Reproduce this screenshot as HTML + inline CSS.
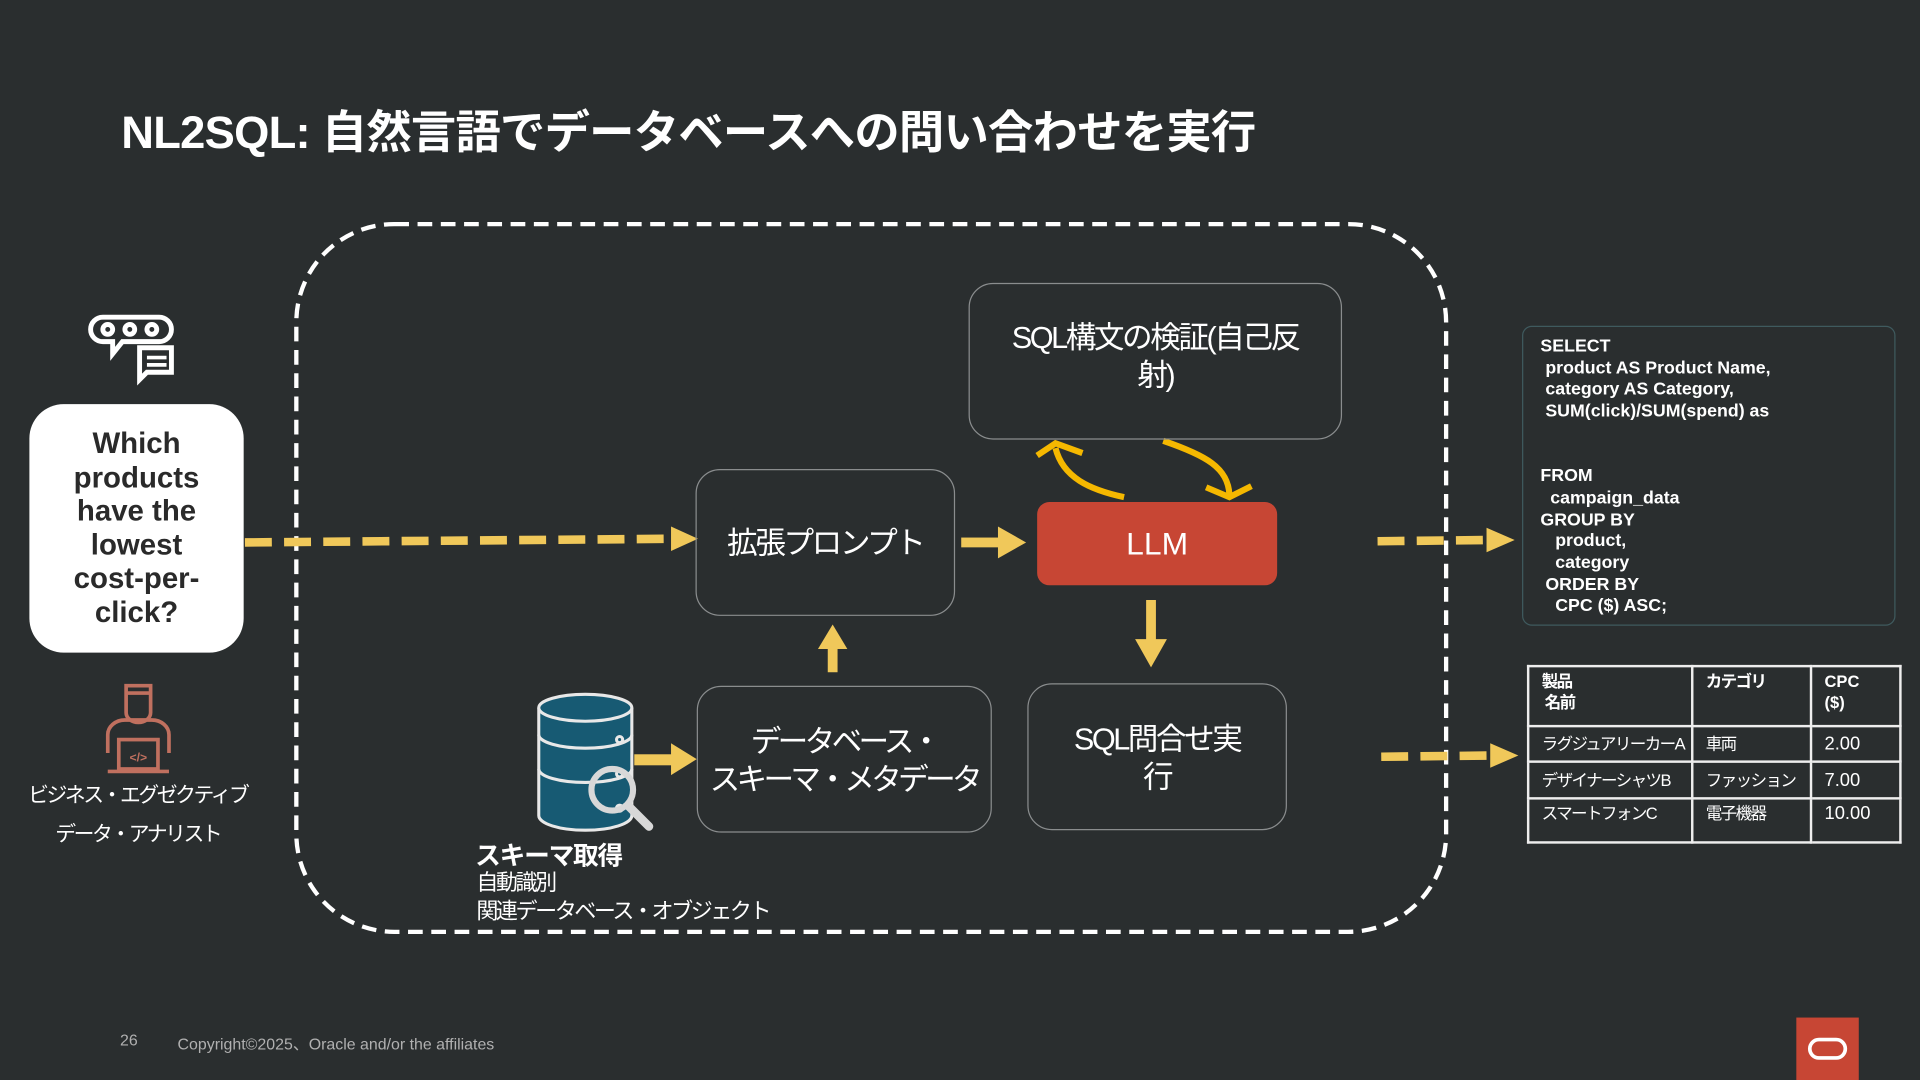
<!DOCTYPE html>
<html><head><meta charset="utf-8"><style>
html,body{margin:0;padding:0;background:#2a2e2f;overflow:hidden}
#w{width:1568px;height:882px;position:relative;transform:scale(1.22449);transform-origin:0 0;font-family:"Liberation Sans","Noto Sans CJK JP",sans-serif;color:#fff}
.a{position:absolute}
.box{position:absolute;border:1px solid #8a8d8e;border-radius:20px;display:flex;align-items:center;justify-content:center;text-align:center;font-size:25px;line-height:31px;box-sizing:border-box;letter-spacing:-2px;white-space:nowrap}
table{border-collapse:collapse;position:absolute;left:1247px;top:543px;width:306px;table-layout:fixed}
td{border:2px solid #eee;font-size:13.5px;padding:3px 10px;vertical-align:top;box-sizing:border-box;white-space:nowrap;letter-spacing:-1.3px;line-height:17px}
</style></head><body><div id="w">
<div class="a" style="left:99px;top:78px;font-size:37px;font-weight:bold;white-space:nowrap;letter-spacing:-0.6px">NL2SQL: 自然言語でデータベースへの問い合わせを実行</div>

<svg class="a" style="left:0;top:0" width="1568" height="882">
<rect x="242" y="183" width="939" height="578" rx="80" fill="none" stroke="#fff" stroke-width="3.5" stroke-dasharray="12,7"/>
<line x1="200" y1="443" x2="548" y2="440" stroke="#f0c85a" stroke-width="7" stroke-dasharray="22,10"/>
<path d="M548,430L570,440L548,450z" fill="#f0c85a"/>
<line x1="1125" y1="442" x2="1215" y2="441" stroke="#f0c85a" stroke-width="7" stroke-dasharray="22,10"/>
<path d="M1214,431L1237,441L1214,451z" fill="#f0c85a"/>
<line x1="1128" y1="618" x2="1218" y2="617" stroke="#f0c85a" stroke-width="7" stroke-dasharray="22,10"/>
<path d="M1217,607L1240,617L1217,627z" fill="#f0c85a"/>
<rect x="785" y="439" width="32" height="8" fill="#f0c85a"/><path d="M815,430L838,443L815,456z" fill="#f0c85a"/>
<rect x="936" y="490" width="8" height="34" fill="#f0c85a"/><path d="M927,522L940,545L953,522z" fill="#f0c85a"/>
<rect x="676" y="527" width="8" height="22" fill="#f0c85a"/><path d="M668,530L680,510L692,530z" fill="#f0c85a"/>
<rect x="518" y="616" width="32" height="9" fill="#f0c85a"/><path d="M548,607L569,620L548,633z" fill="#f0c85a"/>
<path d="M918,406C890,400 868,390 862,366" fill="none" stroke="#f5b800" stroke-width="5"/>
<path d="M847,372L862,362L884,370" fill="none" stroke="#f5b800" stroke-width="5"/>
<path d="M950,360C985,372 1003,382 1004,404" fill="none" stroke="#f5b800" stroke-width="5"/>
<path d="M985,398L1004,406L1022,397" fill="none" stroke="#f5b800" stroke-width="5"/>
<g fill="none" stroke="#fff" stroke-width="4">
<path d="M84,259h46a8,8 0 0 1 0,20h-30l-8,10v-10h-8a10,10 0 0 1 0,-20z"/>
<circle cx="88" cy="269" r="4"/><circle cx="106" cy="269" r="4"/><circle cx="124" cy="269" r="4"/>
<path d="M114,284h26v20h-20l-6,6z"/><line x1="120" y1="292" x2="136" y2="292" stroke-width="3"/><line x1="120" y1="298" x2="136" y2="298" stroke-width="3"/>
</g>
<g fill="none" stroke="#c0705f" stroke-width="3">
<path d="M103,560h20v22a10,8 0 0 1 -20,0z"/><line x1="103" y1="566" x2="123" y2="566"/>
<path d="M88,615v-15a14,12 0 0 1 14,-12h22a14,12 0 0 1 14,12v15"/>
<rect x="97" y="604" width="32" height="24"/><line x1="88" y1="630" x2="138" y2="630"/>
</g>
<text x="113" y="622" fill="#c0705f" font-size="10" font-weight="bold" text-anchor="middle" font-family="Liberation Sans">&lt;/&gt;</text>
<g stroke="#e8e8e8" stroke-width="2.5" fill="#175a73">
<path d="M440,578v88a38,12 0 0 0 76,0v-88"/>
<ellipse cx="478" cy="578" rx="38" ry="11"/>
<path d="M440,600a38,11 0 0 0 76,0M440,628a38,11 0 0 0 76,0" fill="none"/>
<circle cx="506" cy="604" r="2.5" fill="none"/><circle cx="506" cy="632" r="2.5" fill="none"/><circle cx="506" cy="660" r="2.5" fill="none"/>
</g>
<circle cx="500" cy="645" r="17" fill="none" stroke="#d8d8d8" stroke-width="5"/>
<line x1="513" y1="658" x2="530" y2="675" stroke="#d8d8d8" stroke-width="7" stroke-linecap="round"/>
<rect x="1467" y="831" width="51" height="51" fill="#c74634"/>
<rect x="1478" y="849" width="29" height="15" rx="7.5" fill="none" stroke="#fff" stroke-width="3"/>
</svg>

<div class="a" style="left:24px;top:330px;width:175px;height:203px;background:#fff;border-radius:28px;color:#2a2a2a;font-weight:bold;font-size:24px;line-height:27.5px;display:flex;align-items:center;justify-content:center;text-align:center">Which<br>products<br>have the<br>lowest<br>cost-per-<br>click?</div>
<div class="a" style="left:10px;top:634px;width:205px;text-align:center;font-size:17px;line-height:32px;white-space:nowrap;letter-spacing:-2px">ビジネス・エグゼクティブ<br>データ・アナリスト</div>

<div class="box" style="left:568px;top:383px;width:212px;height:120px;padding-top:3px">拡張プロンプト</div>
<div class="a" style="left:847px;top:410px;width:196px;height:68px;background:#c74634;border-radius:10px;display:flex;align-items:center;justify-content:center;font-size:26px">LLM</div>
<div class="box" style="left:791px;top:231px;width:305px;height:128px;padding-bottom:6px">SQL構文の検証(自己反<br>射)</div>
<div class="box" style="left:839px;top:558px;width:212px;height:120px;padding-top:4px">SQL問合せ実<br>行</div>
<div class="box" style="left:569px;top:560px;width:241px;height:120px;letter-spacing:-3px;padding-top:4px">データベース・<br>スキーマ・メタデータ</div>

<div class="a" style="left:388px;top:683px;font-size:21px;font-weight:bold;letter-spacing:-1px">スキーマ取得</div>
<div class="a" style="left:389px;top:710px;font-size:18px;line-height:23px;white-space:nowrap;letter-spacing:-2px">自動識別<br>関連データベース・オブジェクト</div>

<div class="a" style="left:1243px;top:266px;width:305px;height:245px;border:1px solid #3f5a5e;border-radius:8px;box-sizing:border-box;padding:8px 14px;font-size:14.5px;font-weight:bold;line-height:17.7px;white-space:pre">SELECT
 product AS Product Name,
 category AS Category,
 SUM(click)/SUM(spend) as


FROM
  campaign_data
GROUP BY
   product,
   category
 ORDER BY
   CPC ($) ASC;</div>

<table>
<tr style="height:49px"><td style="width:134px;font-weight:bold">製品<br>&nbsp;名前</td><td style="width:97px;font-weight:bold">カテゴリ</td><td style="font-weight:bold;letter-spacing:0">CPC<br>($)</td></tr>
<tr style="height:29px"><td style="vertical-align:middle">ラグジュアリーカーA</td><td style="vertical-align:middle">車両</td><td style="font-size:15px;letter-spacing:0;vertical-align:middle">2.00</td></tr>
<tr style="height:30px"><td style="vertical-align:middle">デザイナーシャツB</td><td style="vertical-align:middle">ファッション</td><td style="font-size:15px;letter-spacing:0;vertical-align:middle">7.00</td></tr>
<tr style="height:36px"><td>スマートフォンC</td><td>電子機器</td><td style="font-size:15px;letter-spacing:0">10.00</td></tr>
</table>

<div class="a" style="left:98px;top:842px;font-size:13px;color:#b0b0b0">26</div>
<div class="a" style="left:145px;top:842px;font-size:13px;color:#b0b0b0">Copyright©2025、Oracle and/or the affiliates</div>
</div></body></html>
